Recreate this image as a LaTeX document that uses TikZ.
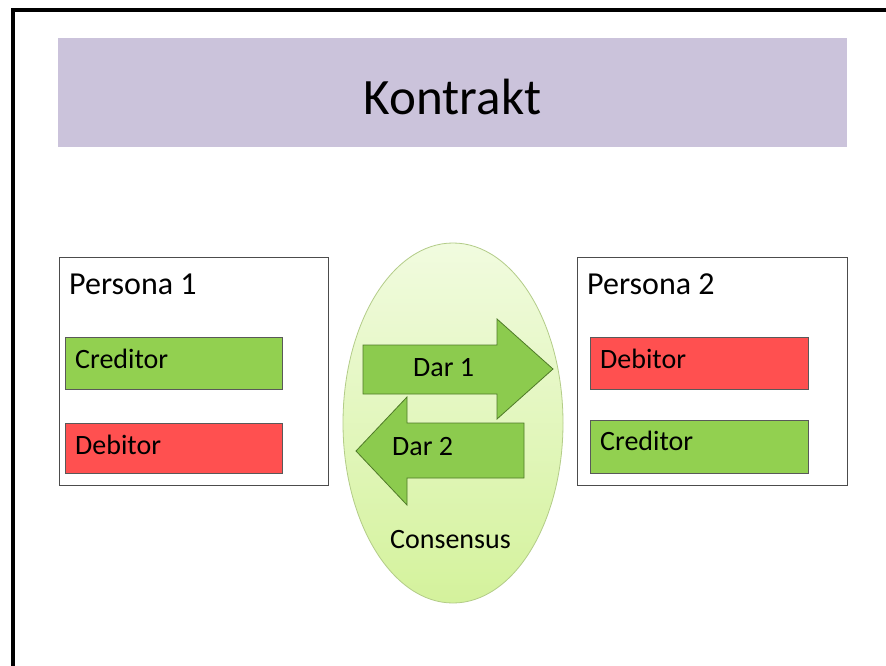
\documentclass[tikz,border=0pt]{standalone}
\usepackage{fontspec}
\setmainfont{Carlito}
\definecolor{titlebg}{HTML}{CBC3DB}
\definecolor{credgreen}{HTML}{92D050}
\definecolor{debred}{HTML}{FF5050}
\definecolor{arrowgreen}{HTML}{8CCB4E}
\definecolor{arrowline}{HTML}{4F7A28}
\definecolor{elltop}{HTML}{F1FBDF}
\definecolor{ellbot}{HTML}{D4F29C}
\definecolor{ellline}{HTML}{B3CC88}
\tikzset{
  frameline/.style={line width=4pt, black},
  personbox/.style={draw=black!70, line width=0.8pt, fill=white},
  rolebox/.style={draw=black!65, line width=0.8pt},
  creditbox/.style={rolebox, fill=credgreen},
  debitbox/.style={rolebox, fill=debred},
  giftarrow/.style={fill=arrowgreen, draw=arrowline, line width=0.8pt, line join=miter},
  lbl/.style={inner sep=0pt, anchor=base west, font=\fontsize{28}{32}\selectfont},
  plbl/.style={inner sep=0pt, anchor=base west, font=\fontsize{32}{36}\selectfont},
}
\begin{document}
\begin{tikzpicture}[x=1pt, y=-1pt]
\useasboundingbox (0,0) rectangle (886,666);
\fill[white] (0,0) rectangle (886,666);
% frame
\draw[frameline] (13,666) -- (13,10) -- (886,10);
% title
\fill[titlebg] (58,38) rectangle (847,147);
\node[inner sep=0pt, anchor=base, font=\fontsize{51}{56}\selectfont] (title) at (452.5,115) {Kontrakt};
% person boxes
\draw[personbox] (59,257) rectangle (328,485);
\draw[personbox] (577,257) rectangle (847,485);
\node[plbl] (p1) at (69,294) {Persona 1};
\node[plbl] (p2) at (587,294) {Persona 2};
% role boxes
\draw[creditbox] (65,337) rectangle (282,389);
\draw[debitbox] (65,423) rectangle (282,473);
\draw[debitbox] (590,337) rectangle (808,389);
\draw[creditbox] (590,420) rectangle (808,473);
\node[lbl] (c1) at (75,368) {Creditor};
\node[lbl] (d1) at (75,454) {Debitor};
\node[lbl] (d2) at (600,368) {Debitor};
\node[lbl] (c2) at (600,450) {Creditor};
% consensus ellipse
\shade[top color=elltop, bottom color=ellbot, draw=ellline, line width=0.8pt] (453,423) ellipse [x radius=110, y radius=180];
% arrows
\draw[giftarrow] (363,345) -- (497,345) -- (497,319) -- (553,369) -- (497,419) -- (497,394) -- (363,394) -- cycle;
\draw[giftarrow] (524,423) -- (407,423) -- (407,397) -- (356,451) -- (407,505) -- (407,478) -- (524,478) -- cycle;
\node[lbl] (dar1) at (413,376) {Dar 1};
\node[lbl] (dar2) at (392,455) {Dar 2};
\node[lbl] (cons) at (390,548) {Consensus};
\end{tikzpicture}
\end{document}
